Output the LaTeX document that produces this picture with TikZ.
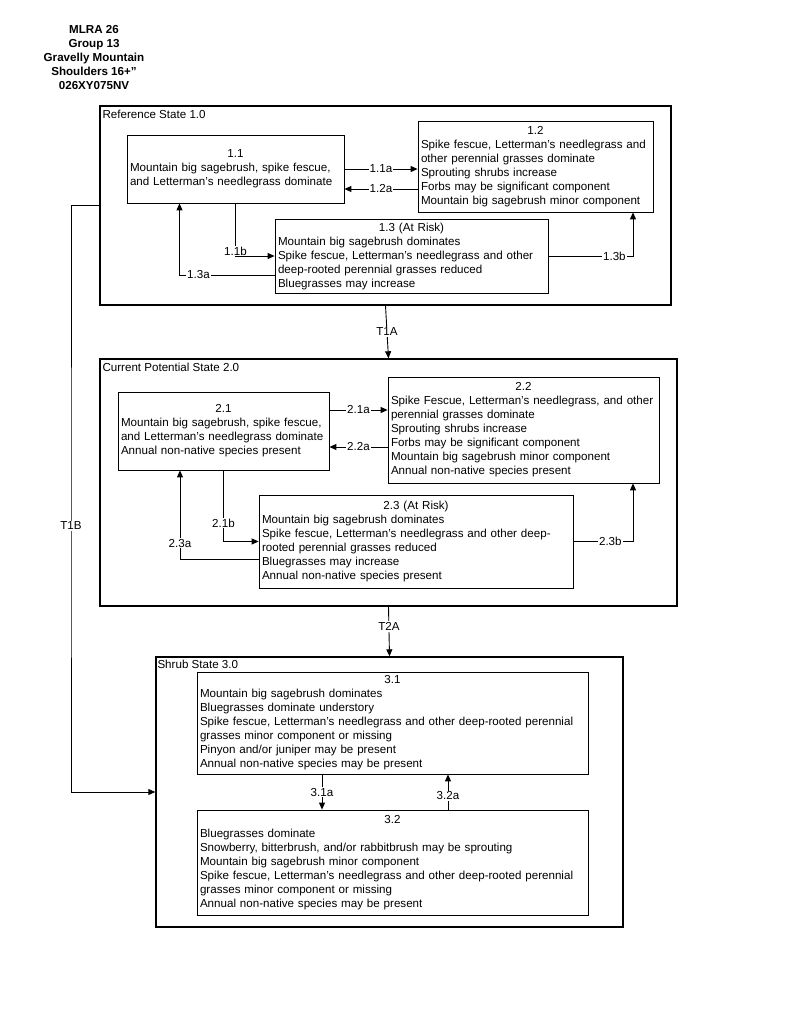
\documentclass[tikz,border=0pt]{standalone}
\usepackage{fontspec}
\setmainfont{Liberation Sans}
\usetikzlibrary{arrows.meta}
\usetikzlibrary{calc}

\begin{document}
\begin{tikzpicture}[x=1pt, y=-1pt,
  statebox/.style={draw=black, line width=1.4pt, inner sep=0pt},
  statename/.style={anchor=west, inner sep=2pt, font=\fontsize{11.6}{14}\selectfont},
  phase/.style={draw=black, line width=0.8pt, fill=white, align=left, inner sep=3pt, font=\fontsize{11.6}{14}\selectfont},
  trans/.style={draw=black, line width=0.9pt, -{Triangle[length=7pt, width=6pt]}},
  tlabel/.style={fill=white, inner sep=1pt, font=\fontsize{11.6}{13}\selectfont}]

\def\hd#1{\makebox[\hsize]{#1}}

\useasboundingbox[fill=white] (0,0) rectangle (800,1036);

\node[align=center, font=\bfseries\fontsize{11.6}{14}\selectfont] (title) at (94,58) {MLRA 26\\Group 13\\Gravelly Mountain\\Shoulders 16+”\\026XY075NV};

\node[statebox, minimum width=571pt, minimum height=199pt] (st1) at (385.5,205.5) {};
\node[statebox, minimum width=577pt, minimum height=247pt] (st2) at (388.5,482.5) {};
\node[statebox, minimum width=467pt, minimum height=270pt] (st3) at (389.5,792) {};
\node[statename] (st1name) at ($(st1.north west)+(1,9)$) {Reference State 1.0};
\node[statename] (st2name) at ($(st2.north west)+(1,9)$) {Current Potential State 2.0};
\node[statename] (st3name) at ($(st3.north west)+(0,8)$) {Shrub State 3.0};

\node[phase, minimum width=217pt, minimum height=68pt, text width=211pt] (p11) at (235.5,169) {\hd{1.1}\\Mountain big sagebrush, spike fescue,\\and Letterman’s needlegrass dominate};
\node[phase, minimum width=235pt, minimum height=91pt, text width=229pt] (p12) at (535.5,166.5) {\hd{1.2}\\Spike fescue, Letterman’s needlegrass and\\other perennial grasses dominate\\Sprouting shrubs increase\\Forbs may be significant component\\Mountain big sagebrush minor component};
\node[phase, minimum width=273pt, minimum height=74pt, text width=267pt] (p13) at (411.5,256) {\hd{1.3 (At Risk)}\\Mountain big sagebrush dominates\\Spike fescue, Letterman’s needlegrass and other\\deep-rooted perennial grasses reduced\\Bluegrasses may increase};

\node[phase, minimum width=211pt, minimum height=78pt, text width=205pt] (p21) at (223.5,431) {\hd{2.1}\\Mountain big sagebrush, spike fescue,\\and Letterman’s needlegrass dominate\\Annual non-native species present};
\node[phase, minimum width=271pt, minimum height=106pt, text width=265pt] (p22) at (523.5,430) {\hd{2.2}\\Spike Fescue, Letterman’s needlegrass, and other\\perennial grasses dominate\\Sprouting shrubs increase\\Forbs may be significant component\\Mountain big sagebrush minor component\\Annual non-native species present};
\node[phase, minimum width=314pt, minimum height=93pt, text width=308pt] (p23) at (416,541.5) {\hd{2.3 (At Risk)}\\Mountain big sagebrush dominates\\Spike fescue, Letterman’s needlegrass and other deep-\\rooted perennial grasses reduced\\Bluegrasses may increase\\Annual non-native species present};

\node[phase, minimum width=391pt, minimum height=102pt, text width=385pt] (p31) at (392.5,723) {\hd{3.1}\\Mountain big sagebrush dominates\\Bluegrasses dominate understory\\Spike fescue, Letterman’s needlegrass and other deep-rooted perennial\\grasses minor component or missing\\Pinyon and/or juniper may be present\\Annual non-native species may be present};
\node[phase, minimum width=391pt, minimum height=105pt, text width=385pt] (p32) at (392.5,862.5) {\hd{3.2}\\Bluegrasses dominate\\Snowberry, bitterbrush, and/or rabbitbrush may be sprouting\\Mountain big sagebrush minor component\\Spike fescue, Letterman’s needlegrass and other deep-rooted perennial\\grasses minor component or missing\\Annual non-native species may be present};

% state 1 pathways
\coordinate (c12a) at ([yshift=-20pt]p11.east);
\coordinate (c13a) at ([yshift=-19pt]p13.west);
\coordinate (c13aend) at ([xshift=-56pt]p11.south);
\coordinate (c13b) at ([xshift=97.5pt]p12.south);
\draw[trans] (p11.east) -- (p11.east -| p12.west) node[tlabel, midway] {1.1a};
\draw[trans] (c12a -| p12.west) -- (c12a) node[tlabel, midway] {1.2a};
\draw[trans] (p11.south) |- (p13.west) node[tlabel, pos=0.5, yshift=5pt] {1.1b};
\draw[trans] (c13a) -| (c13aend) node[tlabel, pos=0.4] {1.3a};
\draw[trans] (p13.east) -| (c13b) node[tlabel, pos=0.39] {1.3b};

% state 2 pathways
\coordinate (c21a) at ([yshift=21pt]p21.east);
\coordinate (c22a) at ([yshift=-16pt]p21.east);
\coordinate (c23a) at ([yshift=-17.5pt]p23.west);
\coordinate (c23aend) at ([xshift=-43.5pt]p21.south);
\coordinate (c23b) at ([xshift=109.5pt]p22.south);
\draw[trans] (c21a) -- (c21a -| p22.west) node[tlabel, midway] {2.1a};
\draw[trans] (c22a -| p22.west) -- (c22a) node[tlabel, midway] {2.2a};
\draw[trans] (p21.south) |- (p23.west) node[tlabel, pos=0.37] {2.1b};
\draw[trans] (c23a) -| (c23aend) node[tlabel, pos=0.59] {2.3a};
\draw[trans] (p23.east) -| (c23b) node[tlabel, pos=0.31] {2.3b};

% state 3 pathways
\coordinate (c31a) at ([xshift=-70.5pt]p31.south);
\coordinate (c32a) at ([xshift=55.5pt]p32.north);
\draw[trans] (c31a) -- (c31a |- p32.north) node[tlabel, midway] {3.1a};
\draw[trans] (c32a) -- (c32a |- p31.south) node[tlabel, pos=0.39] {3.2a};

% transitions
\coordinate (t1b) at (71,526);
\draw[trans] (st1.south) -- (st2.north) node[tlabel, midway] {T1A};
\draw[trans] (st2.south) -- (st3.north) node[tlabel, pos=0.4] {T2A};
\draw[trans] (st1.west) -| (t1b) node[tlabel] {T1B} |- (st3.west);

\end{tikzpicture}
\end{document}
